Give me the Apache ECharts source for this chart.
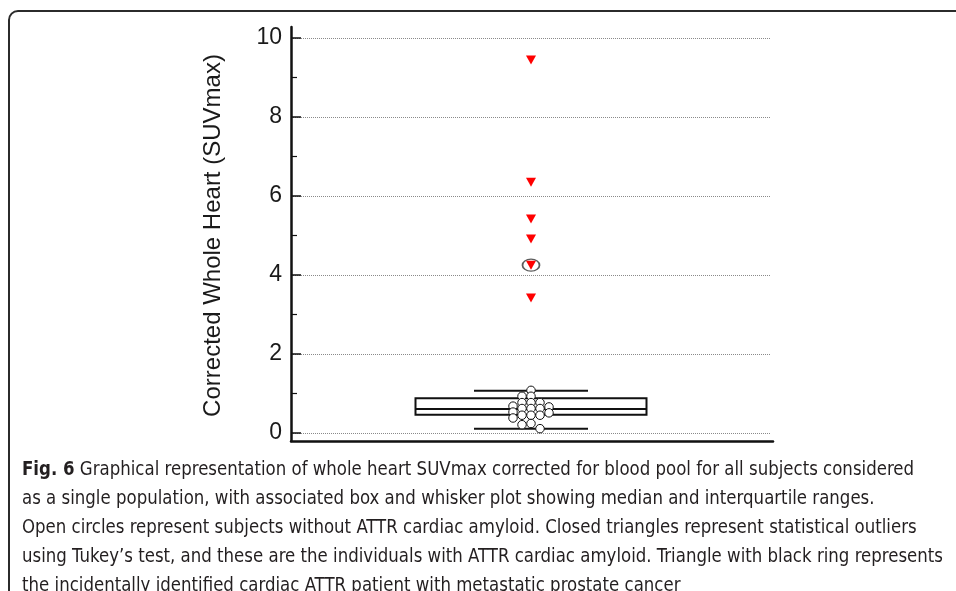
<!DOCTYPE html>
<html>
<head>
<meta charset="utf-8">
<title>Fig. 6</title>
<script src="https://cdn.jsdelivr.net/npm/echarts@6/dist/echarts.min.js"></script>
<style>
  html, body { margin: 0; padding: 0; background: #fff; width: 956px; height: 591px; overflow: hidden; }
  #frame {
    position: absolute; left: 8px; top: 10px; width: 1000px; height: 700px;
    border: 2px solid #2b2b2b; border-radius: 10px; box-sizing: border-box;
  }
  #chart { position: absolute; left: 0; top: 0; width: 956px; height: 591px; }
  #caption {
    position: absolute; left: 22px; top: 454px;
    font-family: "Liberation Sans Narrow", "DejaVu Sans Condensed", "Liberation Sans", sans-serif;
    font-size: 19px; line-height: 29px; color: #231f20; white-space: nowrap;
    transform-origin: left top;
  }
  #caption div { display: block; }
  #caption span.line { display: inline-block; }
</style>
</head>
<body>
<div id="frame"></div>
<div id="chart"></div>
<div id="caption"></div>
<script>
// values
const categories = ["All subjects"];
const boxStats = [0.11, 0.46, 0.61, 0.88, 1.07]; // min, Q1, median, Q3, max
const noAmyloidValues = [1.08, 0.93, 0.93, 0.77, 0.77, 0.77, 0.68, 0.66, 0.62, 0.62,
  0.62, 0.53, 0.51, 0.45, 0.45, 0.45, 0.38, 0.24, 0.21, 0.11];
const outlierValues = [9.44, 6.35, 5.42, 4.91, 4.25, 3.42];
const ringedOutlier = 4.25;
const yMin = 0;
const yMax = 10;
const yStep = 2;

const captionLines = [
  "<b>Fig. 6</b> Graphical representation of whole heart SUVmax corrected for blood pool for all subjects considered",
  "as a single population, with associated box and whisker plot showing median and interquartile ranges.",
  "Open circles represent subjects without ATTR cardiac amyloid. Closed triangles represent statistical outliers",
  "using Tukey\u2019s test, and these are the individuals with ATTR cardiac amyloid. Triangle with black ring represents",
  "the incidentally identified cardiac ATTR patient with metastatic prostate cancer"
];

const gridTop = 38;
const gridBottom = 158;
const chartHeight = 591;
const pxPerUnit = (chartHeight - gridTop - gridBottom) / (yMax - yMin);

// simple column beeswarm so the open circles don't sit on top of each other
function beeswarm(values, colStep, minGap) {
  const placed = [];
  const order = [0, -1, 1, -2, 2, -3, 3, -4, 4];
  return values.map((v) => {
    for (const col of order) {
      const hit = placed.some((p) => p.col === col && Math.abs(p.v - v) * pxPerUnit < minGap);
      if (!hit) {
        placed.push({ v, col });
        return { value: [0, v], symbolOffset: [col * colStep, 0] };
      }
    }
    return { value: [0, v] };
  });
}

const chart = echarts.init(document.getElementById("chart"));

function lineStyle() {
  return { stroke: "#111", lineWidth: 2, fill: null };
}

function renderBox(params, api) {
  const cat = api.value(0);
  const lo = api.coord([cat, api.value(1)]);
  const q1 = api.coord([cat, api.value(2)]);
  const med = api.coord([cat, api.value(3)]);
  const q3 = api.coord([cat, api.value(4)]);
  const hi = api.coord([cat, api.value(5)]);
  const cx = lo[0];
  const half = 115.5;
  const whisker = 57;
  return {
    type: "group",
    children: [
      { type: "line", shape: { x1: cx, y1: hi[1], x2: cx, y2: q3[1] }, style: lineStyle() },
      { type: "line", shape: { x1: cx, y1: q1[1], x2: cx, y2: lo[1] }, style: lineStyle() },
      { type: "line", shape: { x1: cx - whisker, y1: hi[1], x2: cx + whisker, y2: hi[1] }, style: lineStyle() },
      { type: "line", shape: { x1: cx - whisker, y1: lo[1], x2: cx + whisker, y2: lo[1] }, style: lineStyle() },
      { type: "rect", shape: { x: cx - half, y: q3[1], width: half * 2, height: q1[1] - q3[1] }, style: lineStyle() },
      { type: "line", shape: { x1: cx - half, y1: med[1], x2: cx + half, y2: med[1] }, style: lineStyle() }
    ]
  };
}

const axisFont = "Liberation Sans";

chart.setOption({
  animation: false,
  grid: [
    { left: 291, right: 185, top: gridTop, bottom: gridBottom },
    { left: 291, right: 183, top: 27, bottom: 150 }
  ],
  xAxis: [
    { gridIndex: 0, type: "category", data: categories, show: false },
    {
      gridIndex: 1, type: "value", min: 0, max: 1,
      axisLine: { show: true, onZero: false, lineStyle: { color: "#111", width: 2.5 } },
      axisTick: { show: false }, axisLabel: { show: false }, splitLine: { show: false }
    }
  ],
  yAxis: [
    {
      gridIndex: 0, type: "value", min: yMin, max: yMax, interval: yStep,
      name: "Corrected Whole Heart (SUVmax)",
      nameLocation: "middle",
      nameGap: 66,
      nameTextStyle: { fontFamily: axisFont, fontSize: 24, color: "#1a1a1a" },
      axisLine: { show: false },
      axisTick: { show: true, inside: true, length: 10, lineStyle: { color: "#111", width: 1.5 } },
      minorTick: { show: true, splitNumber: 2, length: 6, lineStyle: { color: "#111", width: 1.2 } },
      axisLabel: { fontFamily: axisFont, fontSize: 23, color: "#1a1a1a", margin: 9 },
      splitLine: { show: true, lineStyle: { color: "#8a8a8a", type: "dotted", width: 1 } }
    },
    {
      gridIndex: 1, type: "value", min: 0, max: 1,
      axisLine: { show: true, onZero: false, lineStyle: { color: "#111", width: 2.5 } },
      axisTick: { show: false }, axisLabel: { show: false }, splitLine: { show: false }
    }
  ],
  series: [
    {
      type: "custom",
      xAxisIndex: 0, yAxisIndex: 0,
      renderItem: renderBox,
      encode: { x: 0, y: [1, 2, 3, 4, 5] },
      data: [[0, ...boxStats]],
      z: 2
    },
    {
      type: "scatter",
      xAxisIndex: 0, yAxisIndex: 0,
      symbol: "circle",
      symbolSize: 8.5,
      itemStyle: { color: "#fff", borderColor: "#111", borderWidth: 1, opacity: 1 },
      data: beeswarm(noAmyloidValues, 9, 5.5),
      z: 4
    },
    {
      type: "scatter",
      xAxisIndex: 0, yAxisIndex: 0,
      symbol: "path://M0,6 A8.5,6 0 1,1 17,6 A8.5,6 0 1,1 0,6 Z",
      symbolSize: [17, 12],
      itemStyle: { color: "transparent", borderColor: "#333", borderWidth: 1.5 },
      data: [[0, ringedOutlier]],
      z: 4
    },
    {
      type: "scatter",
      xAxisIndex: 0, yAxisIndex: 0,
      symbol: "triangle",
      symbolRotate: 180,
      symbolSize: [10, 9],
      itemStyle: { color: "#ff0000", opacity: 1 },
      data: outlierValues.map((v) => [0, v]),
      z: 5
    }
  ]
});

// caption, squeezed so the longest line ends where it does in the figure
const caption = document.getElementById("caption");
caption.innerHTML = captionLines.map((l) => `<div><span class="line">${l}</span></div>`).join("");
const widest = Math.max(...[...caption.querySelectorAll("span.line")].map((s) => s.getBoundingClientRect().width));
caption.style.transform = `scaleX(${921 / widest})`;
</script>
</body>
</html>
